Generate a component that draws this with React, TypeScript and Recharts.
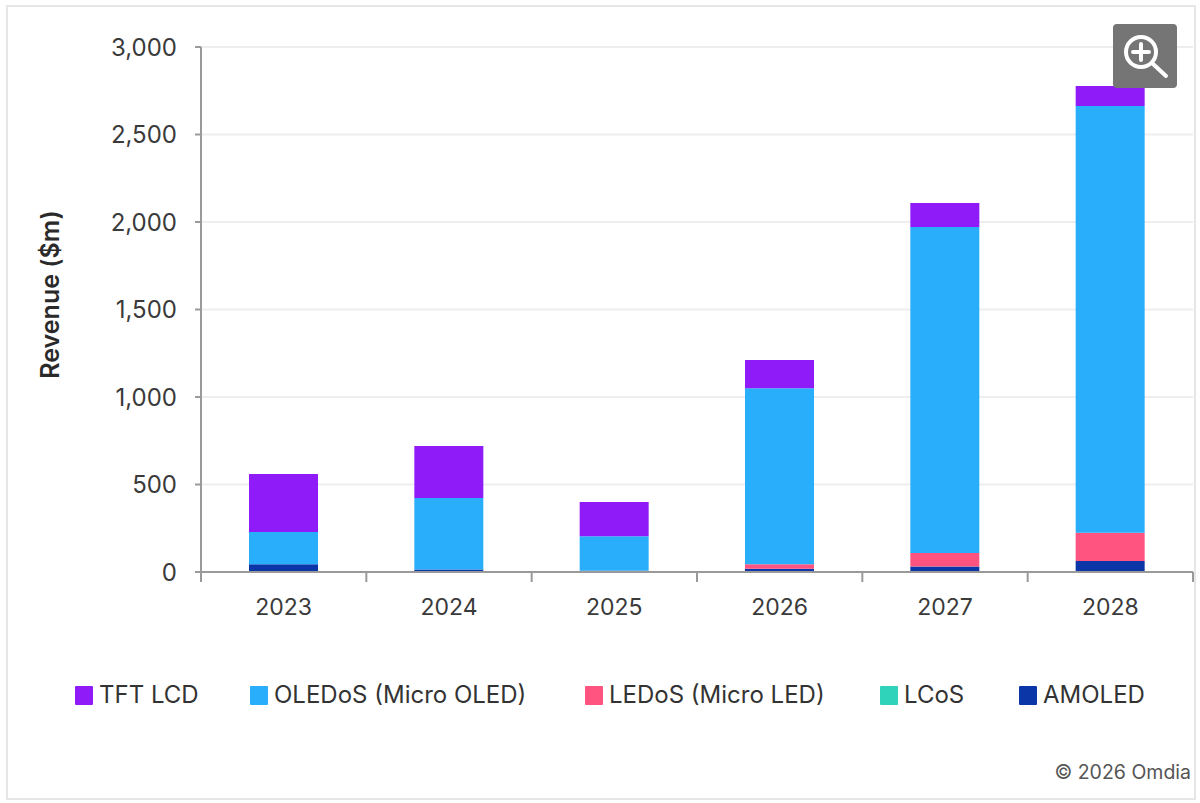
import { Bar, BarChart, CartesianGrid, Label, Legend, XAxis, YAxis } from "recharts";

const YEARS = ["2023", "2024", "2025", "2026", "2027", "2028"];
const AMOLED = [45, 15, 3, 18, 32, 63];
const LCOS = [0, 0, 0, 0, 0, 0];
const LEDOS = [0, 0, 4, 27, 76, 162];
const OLEDOS = [184, 408, 198, 1005, 1863, 2438];
const TFT_LCD = [331, 297, 195, 161, 137, 114];
const Y_TICKS = [0, 500, 1000, 1500, 2000, 2500, 3000];
const EDGE_TICKS = [0, 1, 2, 3, 4, 5, 6];

const FONT = "Inter, 'Liberation Sans', sans-serif";
const COLORS = {
  tft: "#8f1cf8",
  oled: "#29aefc",
  led: "#ff5480",
  lcos: "#2fd3b9",
  amoled: "#0a36a8",
};

const data = YEARS.map((year, i) => ({
  year,
  edge: EDGE_TICKS[i],
  amoled: AMOLED[i],
  lcos: LCOS[i],
  led: LEDOS[i],
  oled: OLEDOS[i],
  tft: TFT_LCD[i],
}));

// legend entries are not evenly spaced in the original
const LEGEND_LEFT: Record<string, number> = {
  tft: 75,
  oled: 250,
  led: 585,
  lcos: 880,
  amoled: 1019,
};

function ChartLegend({ payload }: any) {
  return (
    <div style={{ position: "relative", width: 1200, height: 24 }}>
      {(payload ?? []).map((item: any) => (
        <div
          key={item.dataKey}
          style={{
            position: "absolute",
            left: LEGEND_LEFT[item.dataKey],
            top: 0,
            display: "flex",
            alignItems: "center",
            whiteSpace: "nowrap",
            fontFamily: FONT,
            fontSize: 24,
            lineHeight: "24px",
            color: "#333",
          }}
        >
          <span style={{ width: 18, height: 19, background: item.color, marginRight: 6, borderRadius: 1 }} />
          {item.value}
        </div>
      ))}
    </div>
  );
}

export default function App() {
  return (
    <div style={{ position: "absolute", left: 0, top: 0, width: 1200, height: 803, background: "#fff", overflow: "hidden" }}>
      <div
        style={{
          position: "absolute",
          left: 6,
          top: 5,
          width: 1186,
          height: 791,
          border: "2px solid #e6e6e6",
        }}
      />
      <BarChart
        width={1200}
        height={803}
        data={data}
        margin={{ top: 47, right: 7, bottom: 146, left: 90 }}
        barSize={69}
        style={{ position: "absolute", left: 0, top: 0 }}
      >
        <CartesianGrid xAxisId="years" vertical={false} stroke="#eeeeee" strokeWidth={2} />
        {/* numeric axis only draws the ticks between the categories */}
        <XAxis
          xAxisId="edges"
          dataKey="edge"
          type="number"
          domain={[0, 6]}
          allowDataOverflow
          ticks={EDGE_TICKS}
          height={1}
          tick={() => <g />}
          tickSize={10}
          stroke="#9a9a9a"
          strokeWidth={2}
        />
        <XAxis
          xAxisId="years"
          dataKey="year"
          height={60}
          axisLine={false}
          tickLine={false}
          tickMargin={20}
          tick={{ fill: "#3a3a3a", fontSize: 23, fontFamily: FONT }}
        />
        <YAxis
          width={111}
          domain={[0, 3000]}
          ticks={Y_TICKS}
          tickFormatter={(v) => v.toLocaleString("en-US")}
          tickSize={6}
          tickMargin={18}
          stroke="#9a9a9a"
          strokeWidth={2}
          tick={{ fill: "#3a3a3a", fontSize: 24, fontFamily: FONT }}
        >
          <Label
            value="Revenue ($m)"
            angle={-90}
            position="insideLeft"
            offset={-40}
            dy={-15}
            style={{ fill: "#2a2a2a", fontSize: 25, fontWeight: 600, fontFamily: FONT, textAnchor: "middle" }}
          />
        </YAxis>
        <Bar xAxisId="years" dataKey="amoled" name="AMOLED" stackId="a" fill={COLORS.amoled} isAnimationActive={false} />
        <Bar xAxisId="years" dataKey="lcos" name="LCoS" stackId="a" fill={COLORS.lcos} isAnimationActive={false} />
        <Bar xAxisId="years" dataKey="led" name="LEDoS (Micro LED)" stackId="a" fill={COLORS.led} isAnimationActive={false} />
        <Bar xAxisId="years" dataKey="oled" name="OLEDoS (Micro OLED)" stackId="a" fill={COLORS.oled} isAnimationActive={false} />
        <Bar xAxisId="years" dataKey="tft" name="TFT LCD" stackId="a" fill={COLORS.tft} isAnimationActive={false} />
        <Legend
          content={<ChartLegend />}
          wrapperStyle={{ left: 0, top: 683, bottom: "auto", width: 1200 }}
        />
      </BarChart>
      <div
        style={{
          position: "absolute",
          right: 9,
          top: 760,
          fontFamily: FONT,
          fontSize: 19.5,
          color: "#555",
          whiteSpace: "nowrap",
        }}
      >
        © 2026 Omdia
      </div>
      <svg width={64} height={64} style={{ position: "absolute", left: 1113, top: 24 }}>
        <rect width={64} height={64} rx={4} fill="#757575" />
        <circle cx={28} cy={28} r={15} fill="none" stroke="#fff" strokeWidth={4} />
        <path d="M20 28H36M28 20V36M39 39L53 52" stroke="#fff" strokeWidth={4} strokeLinecap="round" />
      </svg>
    </div>
  );
}
